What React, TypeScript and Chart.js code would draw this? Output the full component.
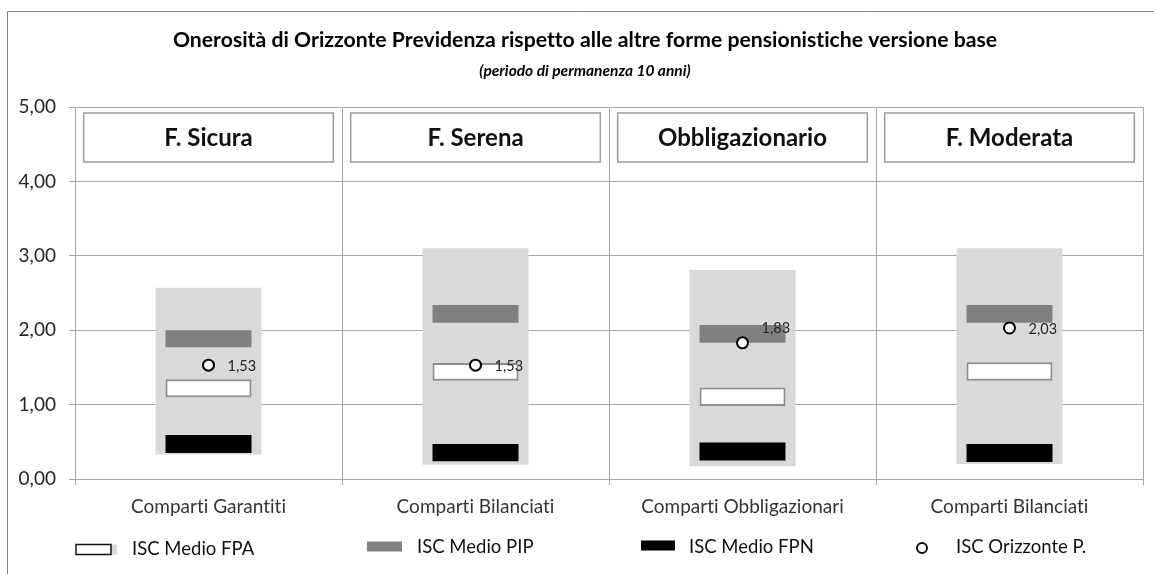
import React, { useEffect, useRef } from "react";
import { Chart, registerables } from "chart.js";

Chart.register(...registerables);

// ---- data ----
const categories = [
  "Comparti Garantiti",
  "Comparti Bilanciati",
  "Comparti Obbligazionari",
  "Comparti Bilanciati",
];
const fundNames = ["F. Sicura", "F. Serena", "Obbligazionario", "F. Moderata"];
const rangeBand = [
  [0.33, 2.57],
  [0.19, 3.1],
  [0.17, 2.81],
  [0.2, 3.1],
];
const iscPIP = [
  [1.77, 2.0],
  [2.1, 2.34],
  [1.83, 2.07],
  [2.1, 2.34],
];
const iscFPA = [
  [1.1, 1.34],
  [1.32, 1.56],
  [0.98, 1.23],
  [1.32, 1.57],
];
const iscFPN = [
  [0.35, 0.59],
  [0.24, 0.47],
  [0.25, 0.49],
  [0.23, 0.47],
];
const iscOrizzonte = [1.53, 1.53, 1.83, 2.03];
const yMin = 0;
const yMax = 5;
const yStep = 1;
const legendLabels = ["ISC Medio FPA", "ISC Medio PIP", "ISC Medio FPN", "ISC Orizzonte P."];
const titleText =
  "Onerosità di Orizzonte Previdenza rispetto alle altre forme pensionistiche versione base";
const subtitleText = "(periodo di permanenza 10 anni)";

// label placement (style): vertical shift of each value label
const labelShift = [1, 1, -15, 1];

const FONT = "Lato";
const fmt = (v: number) => v.toFixed(2).replace(".", ",");

const framePlugin = {
  id: "frame",
  beforeDraw(chart: any) {
    const ctx = chart.ctx;
    // non-zero spacing disables the Lato "ti" ligature
    try {
      ctx.letterSpacing = "0.01px";
    } catch (e) {}
    ctx.save();
    ctx.strokeStyle = "#7f7f7f";
    ctx.lineWidth = 1;
    ctx.beginPath();
    ctx.moveTo(7.5, chart.height);
    ctx.lineTo(7.5, 11.5);
    ctx.lineTo(chart.width, 11.5);
    ctx.stroke();
    // titles (centred on the outer frame)
    const cx = chart.width / 2 + 8;
    ctx.fillStyle = "#000000";
    ctx.textAlign = "center";
    ctx.textBaseline = "alphabetic";
    ctx.font = `bold 21.2px ${FONT}`;
    ctx.fillText(titleText, cx, 46.5);
    ctx.font = `italic bold 15.5px ${FONT}`;
    ctx.fillText(subtitleText, cx, 76);
    ctx.restore();
  },
};

const headerPlugin = {
  id: "headers",
  beforeDatasetsDraw(chart: any) {
    const ctx = chart.ctx;
    const x = chart.scales.x;
    const y = chart.scales.y;
    const catW = (chart.chartArea.right - chart.chartArea.left) / categories.length;
    const top = y.getPixelForValue(yMax) + 6;
    const h = 49;
    const w = catW * 0.935;
    ctx.save();
    fundNames.forEach((name, i) => {
      const cx = x.getPixelForValue(i);
      ctx.fillStyle = "#ffffff";
      ctx.fillRect(cx - w / 2, top, w, h);
      ctx.strokeStyle = "#9a9a9a";
      ctx.lineWidth = 1.5;
      ctx.strokeRect(cx - w / 2, top, w, h);
      ctx.fillStyle = "#111111";
      ctx.font = `bold 24px ${FONT}`;
      ctx.textAlign = "center";
      ctx.textBaseline = "middle";
      ctx.fillText(name, cx, top + h / 2 + 1);
    });
    ctx.restore();
  },
};

const valueLabelPlugin = {
  id: "valueLabels",
  afterDatasetsDraw(chart: any) {
    const ctx = chart.ctx;
    const meta = chart.getDatasetMeta(0);
    ctx.save();
    ctx.font = `14.5px ${FONT}`;
    ctx.fillStyle = "#262626";
    ctx.textAlign = "left";
    ctx.textBaseline = "middle";
    meta.data.forEach((pt: any, i: number) => {
      ctx.fillText(fmt(iscOrizzonte[i]), pt.x + 19, pt.y + labelShift[i]);
    });
    ctx.restore();
  },
};

const legendPlugin = {
  id: "customLegend",
  afterDraw(chart: any) {
    const ctx = chart.ctx;
    const left = chart.chartArea.left;
    const b = chart.chartArea.bottom;
    const catW = (chart.chartArea.right - chart.chartArea.left) / categories.length;
    ctx.save();
    ctx.font = `18.5px ${FONT}`;
    ctx.textBaseline = "alphabetic";
    ctx.textAlign = "left";
    // FPA
    let x0 = left + 1;
    ctx.fillStyle = "#d9d9d9";
    ctx.fillRect(x0 + 34, b + 65.5, 7, 10);
    ctx.fillStyle = "#ffffff";
    ctx.fillRect(x0, b + 65.5, 35, 10);
    ctx.strokeStyle = "#111111";
    ctx.lineWidth = 1.5;
    ctx.strokeRect(x0, b + 65.5, 35, 10);
    ctx.fillStyle = "#111111";
    ctx.fillText(legendLabels[0], left + 57, b + 76);
    // PIP
    x0 = left + catW + 25;
    ctx.fillStyle = "#808080";
    ctx.fillRect(x0, b + 62.5, 35, 10);
    ctx.fillStyle = "#111111";
    ctx.fillText(legendLabels[1], left + catW + 75, b + 74);
    // FPN
    x0 = left + 2 * catW + 32;
    ctx.fillStyle = "#000000";
    ctx.fillRect(x0, b + 61.5, 34, 10);
    ctx.fillStyle = "#111111";
    ctx.fillText(legendLabels[2], left + 2 * catW + 80, b + 73.5);
    // Orizzonte
    ctx.beginPath();
    ctx.arc(left + 3 * catW + 46, b + 69, 5, 0, Math.PI * 2);
    ctx.fillStyle = "#ffffff";
    ctx.fill();
    ctx.strokeStyle = "#111111";
    ctx.lineWidth = 2;
    ctx.stroke();
    ctx.fillStyle = "#111111";
    ctx.fillText(legendLabels[3], left + 3 * catW + 80, b + 73.5);
    ctx.restore();
  },
};

export default function App() {
  const ref = useRef<HTMLCanvasElement | null>(null);
  useEffect(() => {
    if (!ref.current) return;
    const barW = 0.322;
    const chart = new Chart(ref.current, {
      type: "bar",
      data: {
        labels: categories,
        datasets: [
          {
            type: "line",
            label: legendLabels[3],
            data: iscOrizzonte,
            showLine: false,
            pointStyle: "circle",
            pointRadius: 5.5,
            pointBorderWidth: 2,
            pointBackgroundColor: "#ffffff",
            pointBorderColor: "#000000",
            order: 0,
          } as any,
          {
            label: legendLabels[1],
            data: iscPIP as any,
            backgroundColor: "#808080",
            borderWidth: 0,
            grouped: false,
            barPercentage: barW,
            categoryPercentage: 1,
            order: 1,
          },
          {
            label: legendLabels[0],
            data: iscFPA as any,
            backgroundColor: "#ffffff",
            borderColor: "#8c8c8c",
            borderWidth: 2,
            borderSkipped: false,
            grouped: false,
            barPercentage: barW,
            categoryPercentage: 1,
            order: 1,
          },
          {
            label: legendLabels[2],
            data: iscFPN as any,
            backgroundColor: "#000000",
            borderWidth: 0,
            grouped: false,
            barPercentage: barW,
            categoryPercentage: 1,
            order: 1,
          },
          {
            label: "Range",
            data: rangeBand as any,
            backgroundColor: "#d9d9d9",
            borderWidth: 0,
            grouped: false,
            barPercentage: 0.397,
            categoryPercentage: 1,
            order: 5,
          },
        ],
      },
      options: {
        responsive: false,
        animation: false,
        layout: { padding: { left: 0, right: 11, top: 107, bottom: 35 } },
        plugins: {
          legend: { display: false },
          tooltip: { enabled: false },
          title: { display: false },
        },
        scales: {
          x: {
            grid: { color: "#a6a6a6", lineWidth: 1, tickLength: 6, offset: true },
            border: { color: "#a6a6a6" },
            ticks: { color: "#333333", font: { family: FONT, size: 19 }, padding: 10 },
            afterFit(scale: any) {
              scale.height = 60;
            },
          },
          y: {
            min: yMin,
            max: yMax,
            grid: { color: "#a6a6a6", lineWidth: 1, tickLength: 6 },
            border: { color: "#a6a6a6" },
            ticks: {
              stepSize: yStep,
              color: "#262626",
              font: { family: FONT, size: 19 },
              padding: 13,
              callback: (v: any) => fmt(Number(v)),
            },
            afterFit(scale: any) {
              scale.width = 75;
            },
          },
        },
      },
      plugins: [framePlugin, headerPlugin, valueLabelPlugin, legendPlugin],
    });
    return () => chart.destroy();
  }, []);
  return (
    <div style={{ position: "absolute", left: 0, top: 0, width: 1154, height: 574, background: "#fff" }}>
      <canvas ref={ref} width={1154} height={574} style={{ display: "block" }} />
    </div>
  );
}
